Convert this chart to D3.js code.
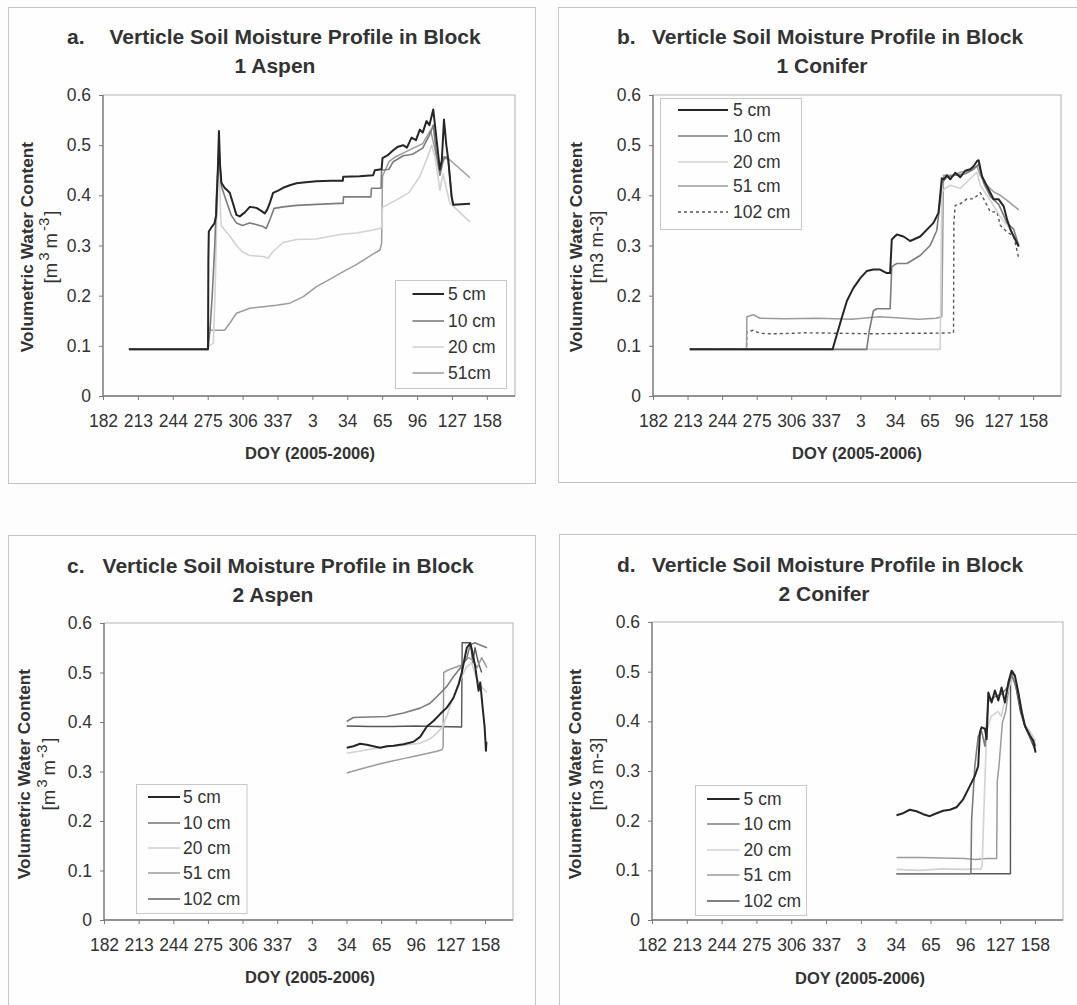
<!DOCTYPE html>
<html>
<head>
<meta charset="utf-8">
<script src="https://cdn.jsdelivr.net/npm/d3@7"></script>
<style>
  body { margin: 0; background: #fdfdfd; }
  svg { display: block; font-family: "Liberation Sans", Arial, sans-serif; }
</style>
</head>
<body>
<svg id="fig" width="1077" height="1005"></svg>
<script>
// ---- Axis ticks (day counted from 1 Jan 2005; 2006 days are DOY + 365) ----
const xTickDays   = [182, 213, 244, 275, 306, 337, 368, 399, 430, 461, 492, 523];
const xTickLabels = ["182", "213", "244", "275", "306", "337", "3", "34", "65", "96", "127", "158"];
const yTickValues = [0, 0.1, 0.2, 0.3, 0.4, 0.5, 0.6];
const yTickLabels = ["0", "0.1", "0.2", "0.3", "0.4", "0.5", "0.6"];

// ---- Block 1 Aspen ----
const b1Aspen5 = [[205,0.093],[275.3,0.093],[275.6,0.27],[276,0.328],[278,0.335],[281,0.344],[282.5,0.36],[284,0.45],[285,0.528],[286,0.46],[287.2,0.425],[290,0.415],[294.6,0.405],[298,0.38],[300.5,0.361],[303.5,0.358],[308,0.366],[312.4,0.377],[318.3,0.375],[322,0.37],[325.7,0.364],[328,0.372],[330.2,0.385],[333.1,0.405],[338,0.41],[342,0.415],[348,0.42],[353.9,0.424],[362,0.426],[371.6,0.428],[385,0.429],[395,0.429],[395.4,0.437],[410,0.438],[422,0.44],[423.5,0.45],[429.5,0.452],[430.3,0.474],[435,0.48],[439.8,0.49],[444,0.497],[448.7,0.5],[452,0.495],[456.1,0.515],[460,0.51],[463.5,0.531],[466,0.525],[469.4,0.548],[472,0.54],[475.4,0.571],[478.3,0.511],[481.3,0.451],[483,0.47],[484.9,0.551],[487,0.5],[488.7,0.471],[491.7,0.398],[493.2,0.381],[508,0.383]];
const b1Aspen10 = [[205,0.093],[275.3,0.093],[277,0.13],[279,0.2],[281.3,0.3],[283,0.41],[285,0.49],[286,0.46],[287.2,0.418],[291,0.392],[296,0.36],[300.5,0.345],[306,0.34],[312,0.345],[318,0.342],[324,0.338],[327,0.334],[330,0.35],[334,0.374],[342,0.377],[354,0.38],[372,0.382],[392,0.384],[395.4,0.384],[395.6,0.397],[420,0.397],[420.5,0.414],[429,0.414],[429.5,0.45],[436,0.452],[439.8,0.467],[448.7,0.479],[457,0.482],[466,0.494],[472,0.52],[475.4,0.54],[478.3,0.48],[481.3,0.44],[485,0.477],[488.7,0.471],[491.7,0.395],[493,0.38]];
const b1Aspen20 = [[205,0.093],[275.3,0.093],[276,0.1],[280,0.105],[281.5,0.2],[283,0.35],[285,0.49],[286.5,0.36],[287.2,0.339],[294.6,0.319],[300.5,0.3],[306,0.287],[312.4,0.28],[318.3,0.279],[324.2,0.278],[328.7,0.275],[333.1,0.288],[342,0.306],[353.9,0.312],[371.6,0.313],[392.4,0.322],[407,0.325],[422,0.331],[429.5,0.335],[430.3,0.376],[442,0.39],[454,0.406],[463.5,0.438],[469.4,0.471],[473.9,0.5],[476.9,0.477],[481.3,0.41],[484,0.443],[490,0.385],[508,0.347]];
const b1Aspen51 = [[205,0.093],[275.3,0.093],[275.8,0.137],[278,0.131],[290,0.131],[294.6,0.145],[300.5,0.165],[312.4,0.175],[324.2,0.178],[336,0.181],[348,0.185],[360,0.198],[371.6,0.218],[383,0.232],[395.4,0.248],[407,0.262],[419,0.279],[428,0.291],[429.5,0.304],[430.3,0.438],[436,0.467],[442,0.477],[454,0.49],[466,0.503],[473,0.53],[478,0.48],[481.3,0.46],[487,0.477],[508,0.435]];

// ---- Block 1 Conifer ----
const b1Conifer5 = [[215,0.093],[343.1,0.093],[351.2,0.155],[356,0.19],[361.7,0.215],[368,0.235],[373.7,0.249],[379.7,0.252],[385.7,0.252],[391.7,0.245],[394.7,0.245],[396.2,0.312],[400.7,0.322],[406.7,0.318],[412.7,0.309],[421.7,0.318],[433.6,0.345],[438.1,0.365],[441.1,0.434],[442.6,0.432],[445.6,0.44],[448.6,0.432],[453.1,0.445],[457.6,0.436],[462.1,0.449],[466.6,0.452],[469.6,0.458],[472.6,0.468],[474.1,0.47],[477.1,0.438],[481.6,0.418],[484.6,0.405],[487.6,0.392],[492.1,0.392],[496.6,0.378],[499.6,0.352],[502.6,0.332],[505.6,0.318],[510.1,0.298]];
const b1Conifer10 = [[215,0.093],[373.7,0.093],[376,0.13],[379.7,0.17],[382.7,0.174],[394.7,0.174],[396.2,0.258],[400.7,0.264],[409.7,0.264],[412.7,0.268],[421.7,0.28],[430.6,0.3],[436.6,0.33],[439.6,0.39],[441.1,0.425],[445.6,0.436],[453.1,0.44],[462.1,0.443],[469.6,0.452],[474.1,0.462],[478.6,0.425],[484.6,0.398],[492.1,0.382],[499.6,0.345],[505.6,0.332],[510.1,0.3]];
const b1Conifer20 = [[215,0.093],[439.6,0.093],[441.1,0.406],[444.1,0.414],[448.6,0.42],[457.6,0.414],[466.6,0.433],[472.6,0.446],[475.6,0.42],[484.6,0.39],[493.6,0.357],[502.6,0.332],[510.1,0.298]];
const b1Conifer51 = [[215,0.093],[265.9,0.093],[266.2,0.158],[272,0.162],[278,0.155],[300,0.154],[330,0.155],[360,0.153],[385,0.158],[400,0.156],[420,0.153],[436,0.155],[441.1,0.158],[442.6,0.44],[451.6,0.44],[457.6,0.446],[466.6,0.45],[472.6,0.458],[475.6,0.44],[481.6,0.42],[487.6,0.407],[493.6,0.4],[499.6,0.39],[510.1,0.371]];
const b1Conifer102 = [[215,0.093],[265.9,0.093],[266.2,0.128],[272,0.131],[278,0.125],[290,0.124],[308,0.125],[320,0.126],[350,0.125],[380,0.124],[410,0.125],[430,0.125],[451.6,0.126],[451.9,0.345],[453.1,0.38],[457.6,0.383],[463.6,0.393],[469.6,0.393],[475.6,0.405],[478.6,0.393],[484.6,0.367],[490.6,0.367],[493.6,0.34],[499.6,0.327],[505.6,0.318],[510.1,0.275]];

// ---- Block 2 Aspen ----
const b2Aspen5 = [[399.2,0.348],[405.2,0.351],[411.1,0.356],[417.2,0.354],[423.1,0.351],[429.1,0.348],[435.1,0.351],[441,0.352],[450,0.355],[458.9,0.36],[464.9,0.37],[470.9,0.391],[476.8,0.402],[482.8,0.416],[488.8,0.429],[494.8,0.449],[499.3,0.476],[502.2,0.5],[505.2,0.534],[506.7,0.55],[509.7,0.559],[511.2,0.546],[514.2,0.512],[517.2,0.463],[518.7,0.48],[520.8,0.43],[522.6,0.39],[523.8,0.342],[524.2,0.36]];
const b2Aspen10 = [[399.2,0.401],[402,0.405],[405.2,0.409],[420,0.41],[435,0.411],[450,0.418],[464.9,0.428],[473.8,0.438],[479.8,0.451],[488.8,0.472],[494.8,0.492],[500.8,0.509],[506.7,0.53],[509.7,0.556],[514,0.56],[518,0.556],[524.7,0.55]];
const b2Aspen20 = [[399.2,0.337],[410,0.341],[420,0.345],[435,0.35],[450,0.353],[464.9,0.357],[474,0.366],[480,0.378],[485,0.39],[490,0.42],[496,0.46],[502,0.49],[506,0.51],[511,0.52],[515,0.49],[520,0.47],[524.7,0.46]];
const b2Aspen51 = [[399.2,0.297],[410,0.304],[420,0.31],[430,0.316],[440,0.321],[450,0.326],[460,0.331],[470,0.336],[480,0.341],[484.3,0.344],[485.5,0.35],[486,0.5],[490,0.505],[496,0.51],[502,0.515],[508,0.53],[512,0.525],[516,0.51],[520,0.53],[524.7,0.51]];
const b2Aspen102 = [[399.2,0.392],[420,0.391],[440,0.391],[460,0.392],[480,0.391],[502,0.39],[502.5,0.56],[510,0.56],[512,0.52],[514,0.55],[517,0.52],[520,0.5]];

// ---- Block 2 Conifer ----
const b2Conifer5 = [[399.7,0.211],[405.6,0.215],[411.6,0.222],[417.5,0.219],[423.5,0.213],[429.4,0.209],[435.4,0.215],[441.3,0.22],[447.3,0.222],[453.2,0.227],[459.1,0.243],[465.1,0.27],[469.5,0.29],[472.5,0.31],[474,0.378],[475.5,0.388],[478.5,0.385],[480,0.364],[481.5,0.458],[484.4,0.438],[487.4,0.462],[490.4,0.442],[493.3,0.468],[496.3,0.438],[499.3,0.478],[502.2,0.502],[505.2,0.492],[508.2,0.458],[511.2,0.418],[514.1,0.391],[518.6,0.371],[521.5,0.361],[523.6,0.337]];
const b2Conifer10 = [[399.7,0.093],[466,0.093],[466.6,0.2],[469.5,0.31],[472.5,0.37],[475.5,0.38],[478.5,0.35],[481.5,0.44],[487.4,0.45],[493.3,0.455],[499.3,0.47],[502.2,0.495],[508.2,0.455],[514.1,0.39],[518.6,0.37],[523.6,0.35]];
const b2Conifer20 = [[399.7,0.102],[420,0.1],[440,0.103],[460,0.102],[475,0.103],[476,0.11],[478,0.25],[480,0.38],[484,0.41],[490,0.42],[493,0.41],[496,0.44],[500,0.47],[504,0.49],[508,0.46],[514,0.395],[518,0.38],[523.6,0.36]];
const b2Conifer51 = [[399.7,0.126],[420,0.126],[440,0.125],[460,0.124],[470,0.122],[480,0.124],[488.9,0.124],[489.5,0.28],[491,0.31],[494,0.397],[497,0.42],[500,0.47],[503,0.5],[506,0.48],[510,0.43],[514,0.39],[518,0.38],[521,0.37],[523.6,0.35]];
const b2Conifer102 = [[399.7,0.093],[501.2,0.093],[501.3,0.49],[503,0.5],[506,0.47],[510,0.42],[514,0.39],[518,0.37],[523.6,0.34]];

// ---- Depth styles ----
const depthStyle = {
  "5":   { color: "#262626", width: 2 },
  "10":  { color: "#7c7c7c", width: 1.6 },
  "20":  { color: "#d2d2d2", width: 1.6 },
  "51":  { color: "#9c9c9c", width: 1.5 },
  "102": { color: "#565656", width: 1.4 }
};

const panels = [
  {
    frame: [8, 7, 527, 476], plot: { l: 103, t: 95, r: 515, b: 396 },
    letter: "a.", letterX: 67, titleX: 109.5, title1Y: 44, title2: "1 Aspen", title2X: 275, title2Y: 73,
    yl: { x1: 32.5, x2: 57, cy: 247 }, sup: true, xTitle: { cx: 310, y: 459 },
    legend: { box: [395, 280, 111, 108], ys: [294, 321, 347, 373], lx: [412.5, 444], tx: 448 },
    series: [
      { depth: "5", label: "5 cm", data: b1Aspen5 },
      { depth: "10", label: "10 cm", data: b1Aspen10 },
      { depth: "20", label: "20 cm", data: b1Aspen20 },
      { depth: "51", label: "51cm", data: b1Aspen51 }
    ]
  },
  {
    frame: [558, 7, 540, 475], plot: { l: 653, t: 95, r: 1061, b: 396 },
    letter: "b.", letterX: 617, titleX: 652, title1Y: 44, title2: "1 Conifer", title2X: 822, title2Y: 73,
    yl: { x1: 582, x2: 603, cy: 247 }, sup: false, xTitle: { cx: 857, y: 459 },
    legend: { box: [660, 98, 141, 131], ys: [110, 136, 162, 186, 212], lx: [678, 728], tx: 733 },
    series: [
      { depth: "5", label: "5 cm", data: b1Conifer5 },
      { depth: "10", label: "10 cm", data: b1Conifer10 },
      { depth: "20", label: "20 cm", data: b1Conifer20 },
      { depth: "51", label: "51 cm", data: b1Conifer51 },
      { depth: "102", label: "102 cm", data: b1Conifer102, dash: "3,3" }
    ]
  },
  {
    frame: [8, 535, 527, 480], plot: { l: 104, t: 623, r: 513, b: 920 },
    letter: "c.", letterX: 67, titleX: 102.6, title1Y: 572.5, title2: "2 Aspen", title2X: 273, title2Y: 602,
    yl: { x1: 29.5, x2: 55, cy: 774 }, sup: true, xTitle: { cx: 310, y: 983 },
    legend: { box: [136, 784, 110.5, 129], ys: [797, 823, 848, 873, 899], lx: [148, 180], tx: 183 },
    series: [
      { depth: "5", label: "5 cm", data: b2Aspen5 },
      { depth: "10", label: "10 cm", data: b2Aspen10 },
      { depth: "20", label: "20 cm", data: b2Aspen20 },
      { depth: "51", label: "51 cm", data: b2Aspen51 },
      { depth: "102", label: "102 cm", data: b2Aspen102 }
    ]
  },
  {
    frame: [559, 534, 540, 480], plot: { l: 652, t: 622, r: 1063, b: 920 },
    letter: "d.", letterX: 617, titleX: 652, title1Y: 572, title2: "2 Conifer", title2X: 824, title2Y: 600.5,
    yl: { x1: 581, x2: 603, cy: 774 }, sup: false, xTitle: { cx: 860, y: 984 },
    legend: { box: [695, 785, 111, 130], ys: [799, 824, 850, 875, 901], lx: [707, 739.5], tx: 743.6 },
    series: [
      { depth: "5", label: "5 cm", data: b2Conifer5 },
      { depth: "10", label: "10 cm", data: b2Conifer10 },
      { depth: "20", label: "20 cm", data: b2Conifer20 },
      { depth: "51", label: "51 cm", data: b2Conifer51 },
      { depth: "102", label: "102 cm", data: b2Conifer102 }
    ]
  }
];

const svg = d3.select("#fig");
const TEXT = "#333";
const TICK_FONT = 17.5;

panels.forEach(p => {
  const g = svg.append("g");
  const { l, t, r, b } = p.plot;

  // chart frame
  g.append("rect")
    .attr("x", p.frame[0] + 0.5).attr("y", p.frame[1] + 0.5)
    .attr("width", p.frame[2]).attr("height", p.frame[3])
    .attr("fill", "#fefefe").attr("stroke", "#c4c4c4").attr("stroke-width", 1);

  const x = d3.scaleLinear().domain([182, 548]).range([l, r]);
  const y = d3.scaleLinear().domain([0, 0.6]).range([b, t]);

  // plot area border
  g.append("rect")
    .attr("x", l).attr("y", t).attr("width", r - l).attr("height", b - t)
    .attr("fill", "none").attr("stroke", "#b4b4b4").attr("stroke-width", 1);

  // series: deep sensors first so shallow ones sit on top
  const line = d3.line().x(d => x(d[0])).y(d => y(d[1]));
  [...p.series].reverse().forEach(s => {
    const st = depthStyle[s.depth];
    g.append("path")
      .attr("d", line(s.data))
      .attr("fill", "none")
      .attr("stroke", st.color)
      .attr("stroke-width", st.width)
      .attr("stroke-linejoin", "round")
      .attr("stroke-dasharray", s.dash || null);
  });

  // axes
  const xAxis = d3.axisBottom(x).tickValues(xTickDays)
    .tickFormat((d, i) => xTickLabels[i]).tickSize(4).tickPadding(15);
  const gx = g.append("g").attr("transform", `translate(0,${b})`).call(xAxis);
  const yAxis = d3.axisLeft(y).tickValues(yTickValues)
    .tickFormat((d, i) => yTickLabels[i]).tickSize(4).tickPadding(8);
  const gy = g.append("g").attr("transform", `translate(${l},0)`).call(yAxis);
  [gx, gy].forEach(ax => {
    ax.select(".domain").attr("stroke", "#7a7a7a").attr("stroke-width", 1.3);
    ax.selectAll(".tick line").attr("stroke", "#7a7a7a");
    ax.selectAll(".tick text").attr("fill", TEXT)
      .style("font-family", "'Liberation Sans', Arial, sans-serif").style("font-size", TICK_FONT + "px");
  });
  gx.select(".domain").attr("d", `M${l},0H${r}`);
  gy.select(".domain").attr("d", `M0,${b}V${t}`);

  // title
  const tt = g.append("text").attr("fill", TEXT).attr("font-weight", "bold").attr("font-size", 21);
  tt.append("tspan").attr("x", p.letterX).attr("y", p.title1Y).text(p.letter);
  tt.append("tspan").attr("x", p.titleX).attr("y", p.title1Y).text("Verticle Soil Moisture Profile in Block");
  g.append("text").attr("fill", TEXT).attr("font-weight", "bold").attr("font-size", 21)
    .attr("text-anchor", "middle").attr("x", p.title2X).attr("y", p.title2Y).text(p.title2);

  // y axis title
  g.append("text").attr("fill", TEXT).attr("font-weight", "bold").attr("font-size", 17.3)
    .attr("text-anchor", "middle")
    .attr("transform", `translate(${p.yl.x1},${p.yl.cy}) rotate(-90)`)
    .text("Volumetric Water Content");
  const u = g.append("text").attr("fill", TEXT).attr("font-size", 18.5)
    .attr("text-anchor", "middle")
    .attr("transform", `translate(${p.yl.x2},${p.yl.cy}) rotate(-90)`);
  if (p.sup) {
    u.append("tspan").text("[m");
    u.append("tspan").attr("font-size", 15).attr("dy", -8).attr("dx", 2).text("3");
    u.append("tspan").attr("dy", 8).attr("dx", 4).text("m");
    u.append("tspan").attr("font-size", 15).attr("dy", -8).attr("dx", 2).text("-3");
    u.append("tspan").attr("dy", 8).attr("dx", 2).text("]");
  } else {
    u.text("[m3 m-3]");
  }

  // x axis title
  g.append("text").attr("fill", TEXT).attr("font-weight", "bold").attr("font-size", 16.5)
    .attr("text-anchor", "middle").attr("x", p.xTitle.cx).attr("y", p.xTitle.y)
    .text("DOY (2005-2006)");

  // legend
  const lg = p.legend;
  g.append("rect").attr("x", lg.box[0] + 0.5).attr("y", lg.box[1] + 0.5)
    .attr("width", lg.box[2]).attr("height", lg.box[3])
    .attr("fill", "#fefefe").attr("stroke", "#c8c8c8");
  p.series.forEach((s, i) => {
    const st = depthStyle[s.depth];
    g.append("line").attr("x1", lg.lx[0]).attr("x2", lg.lx[1])
      .attr("y1", lg.ys[i]).attr("y2", lg.ys[i])
      .attr("stroke", st.color).attr("stroke-width", st.width)
      .attr("stroke-dasharray", s.dash || null);
    g.append("text").attr("fill", TEXT).attr("font-size", 17.5)
      .attr("x", lg.tx).attr("y", lg.ys[i] + 6).text(s.label);
  });
});
</script>
</body>
</html>
